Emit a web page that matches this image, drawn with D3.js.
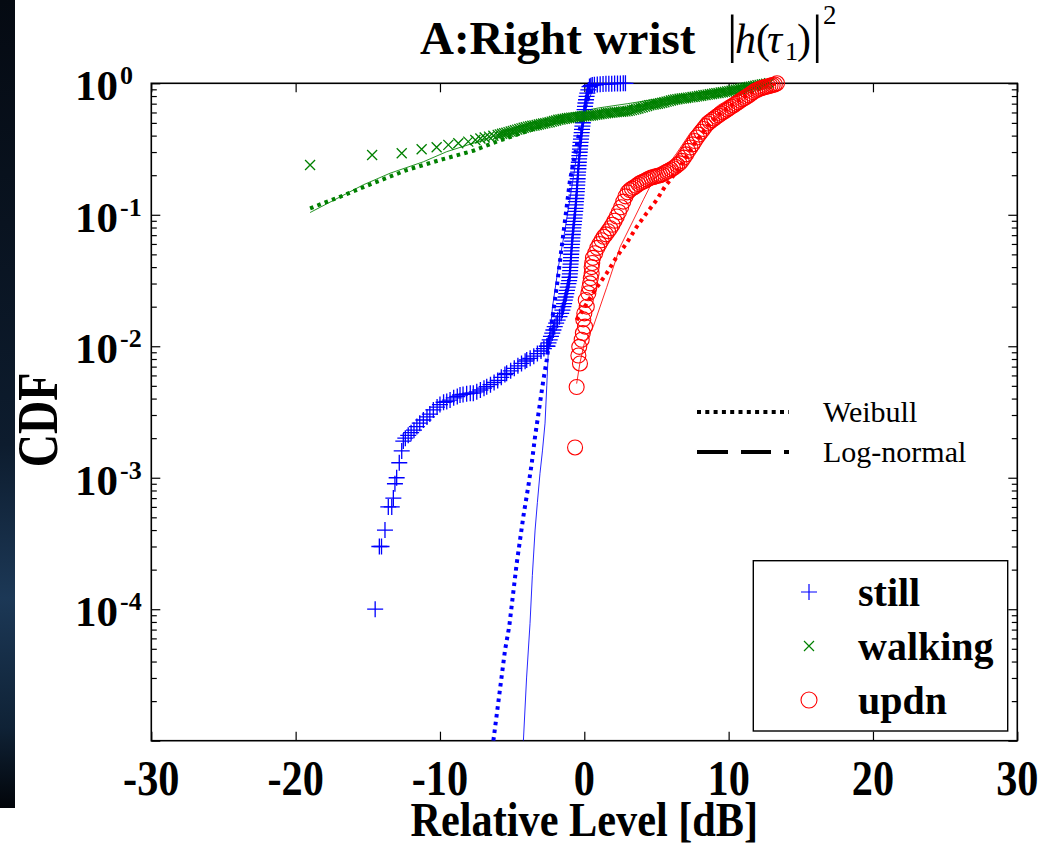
<!DOCTYPE html>
<html><head><meta charset="utf-8">
<script src="https://cdn.jsdelivr.net/npm/d3@7"></script>
<style>body{margin:0;background:#fff}svg{display:block}</style>
</head><body>
<svg id="c" width="1057" height="848"></svg>
<script>
// ---------- data ----------
const xTicks = [-30, -20, -10, 0, 10, 20, 30];
const yTickExps = [0, -1, -2, -3, -4];
const legendLabels = ["still", "walking", "updn"];
const fitLabels = ["Weibull", "Log-normal"];
const titleText = "A:Right wrist";
const xLabel = "Relative Level [dB]";
const yLabel = "CDF";

// still (empirical CDF)
const stillX = [-14.49,-14.2,-14.05,-13.81,-13.58,-13.34,-13.23,-13.12,-13.0,-12.82,-12.65,-12.54,
 -12.4,-12.2,-12.0,-11.8,-11.6,-11.4,-11.15,-10.9,-10.7,-10.46,-10.2,-10.0,-9.75,-9.53,-9.3,-9.05,-8.8,-8.61,-8.4,-8.15,-7.9,-7.69,-7.45,-7.2,-6.95,-6.76,-6.5,-6.25,-6.0,-5.75,-5.5,-5.38,-5.1,-4.85,-4.6,-4.35,-4.1,-3.99,-3.75,-3.5,-3.25,-3.0,-2.8,-2.6,
 -2.55,-2.48,-2.40,-2.31,-2.22,-2.14,-2.05,-1.95,-1.85,-1.72,-1.60,-1.52,-1.45,-1.40,-1.35,-1.30,-1.25,-1.20,-1.15,-1.10,-1.05,-1.02,-1.00,-0.98,-0.97,-0.95,-0.94,-0.92,-0.91,-0.89,-0.88,-0.86,-0.84,-0.82,-0.80,-0.78,-0.76,-0.73,-0.71,-0.68,-0.66,-0.63,-0.61,-0.60,-0.58,-0.56,-0.54,-0.52,-0.51,-0.49,-0.48,-0.46,-0.45,-0.43,-0.41,-0.40,-0.38,-0.36,-0.34,-0.32,-0.30,-0.28,-0.26,-0.23,-0.21,-0.18,-0.16,-0.13,-0.10,-0.07,-0.04,-0.01,0.02,0.05,0.08,0.12,0.16,0.21,0.28,0.36,
 0.45,0.55,0.7,0.9,1.1,1.3,1.5,1.7,1.9,2.1,2.3,2.5,2.7,2.85];
const stillP = [1e-4,3e-4,3e-4,4e-4,6e-4,6e-4,7e-4,9e-4,1e-3,1.3e-3,1.6e-3,1.9e-3,
 2.0e-3,2.1e-3,2.2e-3,2.3e-3,2.45e-3,2.6e-3,2.75e-3,2.9e-3,3.05e-3,3.28e-3,3.45e-3,3.6e-3,3.75e-3,3.8e-3,3.9e-3,4.05e-3,4.15e-3,4.26e-3,4.3e-3,4.35e-3,4.4e-3,4.4e-3,4.5e-3,4.65e-3,4.8e-3,4.93e-3,5.1e-3,5.3e-3,5.5e-3,5.8e-3,6.1e-3,6.23e-3,6.5e-3,6.8e-3,7.1e-3,7.4e-3,7.7e-3,7.87e-3,8.1e-3,8.4e-3,8.8e-3,9.2e-3,9.6e-3,1.0e-2,
 0.0100,0.0106,0.0112,0.0119,0.0126,0.0133,0.0141,0.0150,0.0158,0.0168,0.0178,0.0188,0.0200,0.0211,0.0224,0.0237,0.0251,0.0266,0.0282,0.0299,0.0316,0.0335,0.0355,0.0376,0.0398,0.0422,0.0447,0.0473,0.0501,0.0531,0.0562,0.0596,0.0631,0.0668,0.0708,0.0750,0.0794,0.0841,0.0891,0.0944,0.100,0.106,0.112,0.119,0.126,0.133,0.141,0.150,0.158,0.168,0.178,0.188,0.200,0.211,0.224,0.237,0.251,0.266,0.282,0.299,0.316,0.335,0.355,0.376,0.398,0.422,0.447,0.473,0.501,0.531,0.562,0.596,0.631,0.668,0.708,0.750,0.794,0.841,0.891,0.944,
 0.96,0.97,0.975,0.98,0.984,0.987,0.99,0.992,0.994,0.996,0.997,0.998,0.999,1.0];
const stillWeibullX = [-6.3,-5.49,-5.2,-4.68,-4.22,-3.88,-3.64,-3.41,-3.07,-2.84,-2.6,-2.3,-1.91,-1.68,-1.45,-1.22,-0.99,-0.64,-0.41,-0.18,0.05,0.4,0.8,1.3];
const stillWeibullP = [1e-5,4.9e-5,7.4e-5,2.24e-4,5.1e-4,8.6e-4,1.29e-3,2.06e-3,3.7e-3,5.5e-3,7.9e-3,0.014,0.028,0.045,0.072,0.115,0.184,0.29,0.39,0.53,0.66,0.85,0.96,1.0];
const stillLogNX = [-4.22,-4.0,-3.76,-3.6,-3.41,-3.25,-3.07,-2.9,-2.72,-2.6,-2.49,-2.2,-1.8,-1.4,-1.0,-0.6,-0.2,0.2,0.6,1.0,1.5];
const stillLogNP = [1e-5,3e-5,7.8e-5,1.8e-4,4e-4,6.5e-4,1.08e-3,1.6e-3,2.6e-3,5e-3,9.4e-3,0.02,0.04,0.07,0.13,0.25,0.45,0.7,0.9,0.98,1.0];

// walking
const walkX = [-19.0,-14.7,-12.65,-11.27,-10.23,-9.42,-8.73,-8.04,-7.55,-7.2,-6.9,-6.6,-6.3,
 -6.0,-5.85,-5.7,-5.55,-5.4,-5.25,-5.1,-4.95,-4.8,-4.65,-4.5,-4.35,-4.2,-4.05,-3.9,-3.75,-3.6,-3.45,-3.3,-3.15,-3.0,-2.85,-2.7,-2.55,-2.4,-2.25,-2.1,-1.95,-1.8,-1.65,-1.5,-1.35,-1.2,-1.05,-0.9,-0.75,-0.6,-0.45,-0.3,-0.15,
 0.0,0.15,0.3,0.45,0.6,0.75,0.9,1.05,1.2,1.35,1.5,1.65,1.8,1.95,2.1,2.25,2.4,2.55,2.7,2.85,3.0,3.15,3.3,3.45,3.6,3.75,3.9,4.05,4.2,4.35,4.5,4.65,4.8,4.95,5.1,5.25,5.4,5.55,5.7,5.85,
 6.0,6.15,6.3,6.45,6.6,6.75,6.9,7.05,7.2,7.35,7.5,7.65,7.8,7.95,8.1,8.25,8.4,8.55,8.7,8.85,9.0,9.15,9.3,9.45,9.6,9.75,9.9,10.05,10.2,10.35,10.5,10.65,10.8,10.95,11.1,11.25,11.4,11.55,11.7,11.85,12.0,12.15,12.3,12.45,12.6,12.8];
const walkP = [0.239,0.285,0.294,0.315,0.326,0.340,0.350,0.360,0.370,0.380,0.387,0.393,0.399,
 0.405,0.409,0.413,0.417,0.421,0.425,0.430,0.434,0.439,0.444,0.449,0.454,0.459,0.463,0.468,0.471,0.475,0.478,0.482,0.486,0.490,0.494,0.498,0.502,0.506,0.511,0.517,0.522,0.528,0.531,0.535,0.538,0.542,0.545,0.548,0.550,0.553,0.555,0.557,0.559,
 0.561,0.563,0.566,0.569,0.572,0.575,0.579,0.582,0.585,0.588,0.591,0.594,0.597,0.599,0.602,0.604,0.606,0.608,0.610,0.612,0.615,0.620,0.625,0.631,0.637,0.643,0.650,0.657,0.665,0.672,0.680,0.685,0.690,0.695,0.700,0.706,0.712,0.718,0.725,0.732,
 0.740,0.746,0.752,0.757,0.762,0.766,0.770,0.774,0.778,0.782,0.786,0.790,0.795,0.800,0.805,0.810,0.815,0.820,0.825,0.830,0.836,0.840,0.845,0.850,0.855,0.860,0.866,0.872,0.878,0.885,0.892,0.899,0.906,0.913,0.920,0.928,0.937,0.944,0.952,0.959,0.966,0.973,0.980,0.986,0.992,1.0];
const walkWeibullX = [-19.0,-16.93,-14.62,-12.3,-10.0,-7.69,-6.07,-3.76,-2.4,-1.45,-0.07,2.25,4.55,6.86,9.17,11.48,12.6];
const walkWeibullP = [0.112,0.137,0.174,0.219,0.261,0.307,0.36,0.44,0.497,0.526,0.542,0.627,0.705,0.79,0.863,0.954,1.0];
const walkLogNX = [-19.0,-15.31,-13.46,-11.15,-9.53,-7.0,-5.0,-3.0,-1.0,1.0,3.0,6.0,9.0,11.0,12.6];
const walkLogNP = [0.104,0.169,0.207,0.253,0.302,0.37,0.45,0.53,0.59,0.65,0.70,0.79,0.88,0.95,1.0];

// updn
const updnX = [-0.64,-0.53,-0.30,-0.41,-0.35,-0.18,-0.10,0.05,-0.07,0.0,0.17,0.10,0.28,0.35,0.40,0.45,0.51,0.51,0.55,
 0.6,0.75,0.9,1.05,1.2,1.35,1.5,1.65,1.8,1.95,2.1,2.25,2.4,2.55,2.7,2.85,3.0,3.15,3.3,3.45,3.6,3.75,3.9,4.05,4.2,4.35,4.5,4.65,4.8,4.95,5.1,5.25,5.4,5.55,5.7,5.85,
 6.0,6.15,6.3,6.45,6.6,6.75,6.9,7.05,7.2,7.35,7.5,7.65,7.8,7.95,8.1,8.25,8.4,8.55,8.7,8.85,9.0,9.15,9.3,9.45,9.6,9.75,9.9,10.05,10.2,10.35,10.5,10.65,10.8,10.95,11.1,11.25,11.4,11.55,11.7,11.85,12.0,12.15,12.3,12.45,12.6,12.75,12.9,13.05,13.2,13.35];
const updnP = [0.0017,0.0049,0.0074,0.0085,0.0099,0.0112,0.0126,0.0141,0.0160,0.0178,0.0200,0.0225,0.0253,0.0280,0.0301,0.033,0.0359,0.040,0.043,
 0.047,0.051,0.056,0.060,0.064,0.068,0.071,0.075,0.079,0.084,0.090,0.097,0.105,0.114,0.126,0.138,0.148,0.154,0.158,0.162,0.166,0.171,0.175,0.178,0.181,0.185,0.189,0.192,0.194,0.196,0.198,0.200,0.203,0.208,0.212,0.216,
 0.221,0.226,0.232,0.239,0.246,0.257,0.272,0.288,0.306,0.325,0.343,0.364,0.387,0.407,0.428,0.449,0.472,0.495,0.510,0.525,0.540,0.555,0.570,0.586,0.603,0.616,0.630,0.647,0.664,0.681,0.698,0.716,0.735,0.755,0.773,0.790,0.811,0.832,0.857,0.877,0.893,0.908,0.920,0.931,0.940,0.950,0.960,0.968,0.980,1.0];
const updnWeibullX = [-0.53,0.17,0.86,1.55,2.25,2.94,3.63,4.32,5.02,5.59,6.5,7.5,8.5,9.5,10.5,11.5,12.5,13.3];
const updnWeibullP = [0.0158,0.0212,0.028,0.0359,0.048,0.061,0.081,0.103,0.13,0.164,0.22,0.33,0.47,0.6,0.72,0.84,0.95,1.0];
const updnLogNX = [-0.53,-0.3,0.0,0.62,1.55,2.48,3.40,4.09,4.78,5.71,6.40,7.33,8.3,9.3,10.3,11.3,12.3,13.3];
const updnLogNP = [0.0052,0.0075,0.0105,0.0141,0.028,0.057,0.091,0.13,0.184,0.232,0.294,0.417,0.55,0.68,0.79,0.88,0.95,1.0];

// ---------- drawing ----------
const L = 151.3, R = 1017.3, T = 83.3, B = 740.7;
const svg = d3.select("#c");
const serif = "'Liberation Serif','Times New Roman',serif";
const defs = svg.append("defs");

// left dark strip
const grad = defs.append("linearGradient").attr("id","strip").attr("x1",0).attr("x2",0).attr("y1",0).attr("y2",1);
grad.append("stop").attr("offset","0").attr("stop-color","#050a12");
grad.append("stop").attr("offset","0.55").attr("stop-color","#0d1c2e");
grad.append("stop").attr("offset","0.74").attr("stop-color","#1c3856");
grad.append("stop").attr("offset","0.9").attr("stop-color","#0f2236");
grad.append("stop").attr("offset","1").attr("stop-color","#02050a");
svg.append("rect").attr("x",0).attr("y",0).attr("width",15).attr("height",808).attr("fill","url(#strip)");

const x = d3.scaleLinear().domain([-30, 30]).range([L, R]);
const y = d3.scaleLog().domain([1e-5, 1]).range([B, T]);

defs.append("clipPath").attr("id","clip")
  .append("rect").attr("x",L).attr("y",T).attr("width",R-L).attr("height",B-T);

// axes ticks
const majors = [1e-5,1e-4,1e-3,1e-2,1e-1,1];
const minors = [];
for (let e = -5; e < 0; e++) for (let k = 2; k <= 9; k++) minors.push(k*Math.pow(10,e));
function clean(g){ g.select(".domain").remove(); g.selectAll("text").remove(); g.selectAll("line").attr("stroke","#000").attr("stroke-width",1.2); }
svg.append("g").attr("transform",`translate(0,${B})`).call(d3.axisBottom(x).tickValues(xTicks).tickSize(-9)).call(clean);
svg.append("g").attr("transform",`translate(0,${T})`).call(d3.axisTop(x).tickValues(xTicks).tickSize(-9)).call(clean);
svg.append("g").attr("transform",`translate(${L},0)`).call(d3.axisLeft(y).tickValues(majors).tickSize(-9)).call(clean);
svg.append("g").attr("transform",`translate(${L},0)`).call(d3.axisLeft(y).tickValues(minors).tickSize(-5.5)).call(clean);
svg.append("g").attr("transform",`translate(${R},0)`).call(d3.axisRight(y).tickValues(majors).tickSize(-9)).call(clean);
svg.append("g").attr("transform",`translate(${R},0)`).call(d3.axisRight(y).tickValues(minors).tickSize(-5.5)).call(clean);

// frame
svg.append("rect").attr("x",L).attr("y",T).attr("width",R-L).attr("height",B-T)
  .attr("fill","none").attr("stroke","#000").attr("stroke-width",1.6);

// tick labels
svg.append("g").selectAll("text").data(xTicks).join("text")
  .attr("transform", d => `translate(${x(d)},795) scale(0.9,1.08)`)
  .attr("text-anchor","middle").attr("font-family",serif).attr("font-weight","bold").attr("font-size",47)
  .text(d => d);
const yl = svg.append("g").selectAll("g").data(yTickExps).join("g");
yl.append("text").attr("x",118).attr("y",d => y(Math.pow(10,d))+17)
  .attr("text-anchor","end").attr("font-family",serif).attr("font-weight","bold").attr("font-size",43).text("10");
yl.append("text").attr("x",120).attr("y",d => y(Math.pow(10,d))+1)
  .attr("font-family",serif).attr("font-weight","bold").attr("font-size",26).text(d => d === 0 ? "0" : "-" + (-d));

// axis labels
svg.append("text").attr("transform",`translate(${(L+R)/2},836) scale(0.92,1.05)`)
  .attr("text-anchor","middle").attr("font-family",serif).attr("font-weight","bold").attr("font-size",46).text(xLabel);
svg.append("text").attr("transform","translate(57,420) rotate(-90) scale(1,1.25)")
  .attr("text-anchor","middle").attr("font-family",serif).attr("font-weight","bold").attr("font-size",46).text(yLabel);

// title
svg.append("text").attr("x",420).attr("y",54).attr("font-family",serif).attr("font-weight","bold").attr("font-size",47).text(titleText);
const tf = svg.append("g").attr("font-family",serif);
tf.append("text").attr("x",727).attr("y",52).attr("font-size",52).text("|");
tf.append("text").attr("x",735).attr("y",53).attr("font-size",42).attr("font-style","italic").text("h");
tf.append("text").attr("x",756).attr("y",53).attr("font-size",42).text("(");
tf.append("text").attr("x",767).attr("y",53).attr("font-size",42).attr("font-style","italic").text("τ");
tf.append("text").attr("x",785).attr("y",60).attr("font-size",26).text("1");
tf.append("text").attr("x",797).attr("y",53).attr("font-size",42).text(")");
tf.append("text").attr("x",812).attr("y",52).attr("font-size",52).text("|");
tf.append("text").attr("x",823).attr("y",24).attr("font-size",27).text("2");

// lines
const line = d3.line().x(d => x(d[0])).y(d => y(d[1]));
const zip = (a, b) => a.map((v, i) => [v, b[i]]);
const lines = svg.append("g").attr("clip-path","url(#clip)");
function dotted(xs, ps, col){
  lines.append("path").attr("d", line(zip(xs, ps))).attr("fill","none").attr("stroke",col)
    .attr("stroke-width",4).attr("stroke-dasharray","3.6,4.2");
}
function solid(xs, ps, col){
  lines.append("path").attr("d", line(zip(xs, ps))).attr("fill","none").attr("stroke",col)
    .attr("stroke-width",1).attr("opacity",0.85);
}

// markers
const blue = "#0000ff", green = "#008000", red = "#ff0000";
const plusPath = "M-8,0H8M0,-8V8";
const xPath = "M-5,-5L5,5M-5,5L5,-5";
svg.append("g").selectAll("path").data(zip(stillX, stillP)).join("path")
  .attr("transform", d => `translate(${x(d[0])},${y(d[1])})`).attr("d", plusPath)
  .attr("stroke", blue).attr("stroke-width",1.3).attr("fill","none");
svg.append("g").selectAll("path").data(zip(walkX, walkP)).join("path")
  .attr("transform", d => `translate(${x(d[0])},${y(d[1])})`).attr("d", xPath)
  .attr("stroke", green).attr("stroke-width",1.3).attr("fill","none");
svg.append("g").selectAll("circle").data(zip(updnX, updnP)).join("circle")
  .attr("cx", d => x(d[0])).attr("cy", d => y(d[1])).attr("r",7.5)
  .attr("stroke", red).attr("stroke-width",1.1).attr("fill","none");

dotted(stillWeibullX, stillWeibullP, blue);
solid(stillLogNX, stillLogNP, blue);
dotted(walkWeibullX, walkWeibullP, green);
solid(walkLogNX, walkLogNP, green);
dotted(updnWeibullX, updnWeibullP, red);
solid(updnLogNX, updnLogNP, red);

// fit-type legend (no box)
svg.append("line").attr("x1",697).attr("x2",789).attr("y1",412).attr("y2",412)
  .attr("stroke","#000").attr("stroke-width",4).attr("stroke-dasharray","4,4.3");
svg.append("line").attr("x1",697).attr("x2",789).attr("y1",452).attr("y2",452)
  .attr("stroke","#000").attr("stroke-width",4).attr("stroke-dasharray","31,13,30,13,5,100");
svg.append("g").selectAll("text").data(fitLabels).join("text")
  .attr("x",823).attr("y",(d,i) => 422 + i*40).attr("font-family",serif).attr("font-size",30).text(d => d);

// series legend
svg.append("rect").attr("x",753.3).attr("y",560.7).attr("width",254.4).attr("height",170.3)
  .attr("fill","#fff").attr("stroke","#000").attr("stroke-width",1.4);
const legY = [592, 646, 700];
svg.append("path").attr("transform",`translate(809,${legY[0]})`).attr("d",plusPath).attr("stroke",blue).attr("stroke-width",1.2);
svg.append("path").attr("transform",`translate(809,${legY[1]})`).attr("d",xPath).attr("stroke",green).attr("stroke-width",1.2);
svg.append("circle").attr("cx",809).attr("cy",legY[2]).attr("r",8).attr("stroke",red).attr("stroke-width",1.1).attr("fill","none");
svg.append("g").selectAll("text").data(legendLabels).join("text")
  .attr("x",858).attr("y",(d,i) => legY[i] + 14).attr("font-family",serif).attr("font-weight","bold").attr("font-size",40).text(d => d);
</script>
</body></html>
